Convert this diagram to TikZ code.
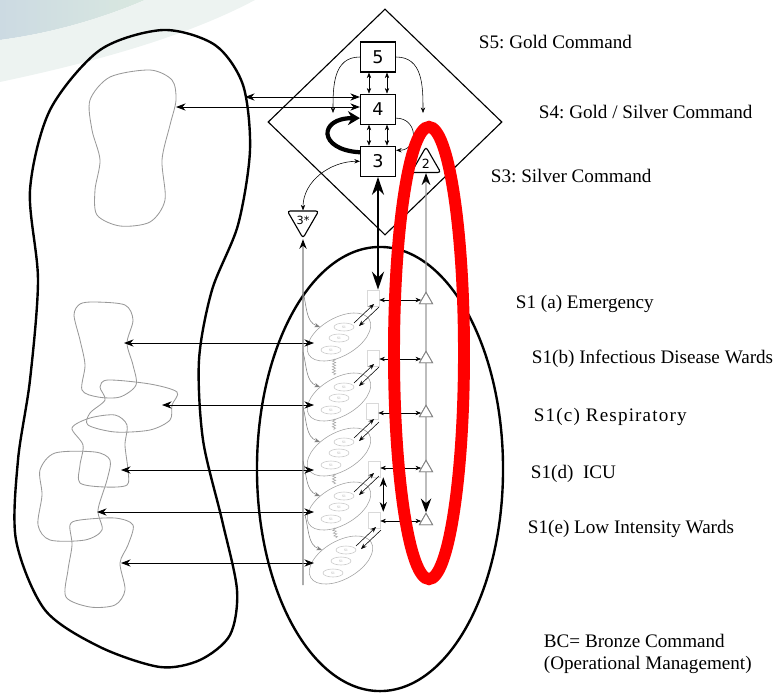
\documentclass[tikz,border=0pt]{standalone}
\usepackage{fontspec}
\setmainfont{Liberation Serif}
\newfontfamily\numfont{DejaVu Sans}
\usetikzlibrary{shapes.geometric, arrows.meta, positioning, calc, decorations.pathmorphing}
\definecolor{slideblue}{HTML}{CCDAE2}
\definecolor{slidegreen}{HTML}{D9E8E0}
\definecolor{slidepale}{HTML}{EDF3F1}
\definecolor{wardgray}{HTML}{A0A0A0}
\definecolor{markred}{HTML}{FF0000}
\frenchspacing

\begin{document}
\begin{tikzpicture}[
    x=0.025cm, y=-0.025cm,
    >={Stealth[length=2.4mm, width=1.8mm]},
    numbox/.style={rectangle, draw, line width=0.8pt, fill=white, minimum width=0.875cm,
                   minimum height=0.75cm, inner sep=0pt, font=\numfont\fontsize{12.5}{14}\selectfont},
    tri/.style={regular polygon, regular polygon sides=3, draw, line width=0.8pt, fill=white,
                rounded corners=2pt, inner sep=0pt, font=\numfont\fontsize{9}{10}\selectfont},
    stub/.style={regular polygon, regular polygon sides=3, draw=gray, line width=0.6pt, fill=white,
                 minimum size=0.38cm, inner sep=0pt},
    ward/.style={ellipse, draw=wardgray, line width=0.4pt, minimum width=1.75cm, minimum height=0.95cm, rotate=30},
    cell/.style={ellipse, draw=gray!45, minimum width=0.5cm, minimum height=0.2cm, inner sep=0pt,
                 text=gray!70, font=\fontsize{2.5}{3}\selectfont},
    gate/.style={rectangle, draw=gray!30, minimum width=0.3cm, minimum height=0.4cm},
    region/.style={draw, line width=1.7pt},
    blob/.style={draw=gray!80, line width=0.6pt},
    cmdtext/.style={anchor=west, font=\fontsize{13.6}{16}\selectfont},
    link/.style={<->, line width=0.6pt},
    minilink/.style={<->, line width=0.4pt, >={Stealth[length=1.4mm, width=1.1mm]}},
    miniarrow/.style={->, line width=0.4pt, >={Stealth[length=1.4mm, width=1.1mm]}},
    heavylink/.style={<->, line width=2pt, >={Stealth[length=4.5mm, width=3mm]}}
]
    \useasboundingbox (0,0) rectangle (782,692);

    % Slide background
    \shade[left color=slideblue, right color=slidegreen] (0,0) -- (0,40) .. controls (60,32) and (110,15) .. (145,0) -- cycle;
    \fill[slidepale] (0,40) .. controls (60,32) and (110,15) .. (145,0) -- (255,0) .. controls (180,40) and (80,65) .. (0,82) -- cycle;

    % Environment (left region and its blobs)
    \draw[region] plot[smooth cycle] coordinates {(163,30) (215,45) (243,85) (250,150) (238,225) (212,290) (199,360)
        (203,440) (222,520) (237,590) (230,635) (200,660) (160,667) (100,647) (45,610) (16,540) (18,460) (30,380)
        (38,280) (30,190) (50,110) (100,50)};
    \draw[blob] plot[smooth cycle] coordinates {(150,70) (172,80) (176,100) (170,125) (162,160) (165,200) (150,222)
        (120,226) (97,215) (95,190) (100,160) (92,130) (90,100) (110,77)};
    \draw[blob] plot[smooth cycle] coordinates {(95,302) (125,305) (133,320) (127,343) (133,365) (136,385) (120,397)
        (98,397) (82,390) (85,365) (80,340) (74,315) (80,304)};
    \draw[blob] plot[smooth cycle] coordinates {(108,380) (150,384) (177,392) (172,405) (170,420) (150,430) (115,432)
        (88,425) (90,413) (105,400) (100,387)};
    \draw[blob] plot[smooth cycle] coordinates {(90,418) (115,415) (127,425) (125,445) (128,470) (127,485) (105,487)
        (80,483) (80,465) (83,445) (72,428)};
    \draw[blob] plot[smooth cycle] coordinates {(55,453) (95,452) (110,460) (107,480) (98,510) (102,530) (85,540)
        (50,540) (38,525) (42,495) (40,470)};
    \draw[blob] plot[smooth cycle] coordinates {(80,520) (115,518) (133,525) (128,545) (120,563) (125,590) (115,605)
        (90,607) (66,597) (68,570) (72,545) (70,525)};
    \coordinate (edgeO) at (245,97);
    \coordinate (tipT) at (176,107);
    \coordinate (tipA) at (124,343);
    \coordinate (tipB) at (162,405);
    \coordinate (tipC) at (121,470);
    \coordinate (tipD) at (97,512);
    \coordinate (tipE) at (121,563);
    \coordinate (wx) at (314,0);

    % Gold / Silver command
    \node[diamond, draw, line width=0.8pt, minimum width=5.85cm, minimum height=5.65cm, inner sep=0pt] (gold) at (385,122) {};
    \node[numbox] (b5) at (378,57) {5};
    \node[numbox, below=0.525cm of b5] (b4) {4};
    \node[numbox, below=0.525cm of b4] (b3) {3};
    \node[tri, minimum size=0.85cm] (t2) at (426,164) {2};
    \node[tri, minimum size=0.8cm, shape border rotate=180, font=\numfont\fontsize{8}{9}\selectfont] (t3s) at (303,220) {3*};

    % Bronze command
    \node[ellipse, region, minimum width=6.15cm, minimum height=11.1cm] (bronze) at (380,469) {};
    \node[ward] (w1) at (339,337) {};
    \node[ward] (w2) at (339,397) {};
    \node[ward] (w3) at (339,452) {};
    \node[ward] (w4) at (339,506) {};
    \node[ward] (w5) at (341,560) {};
    \node[gate] (g1) at (373,298) {};
    \node[gate] (g2) at (373,358) {};
    \node[gate] (g3) at (372,411) {};
    \node[gate] (g4) at (374,469) {};
    \node[gate] (g5) at (374,520) {};
    \foreach \i in {1,...,5} {
        \node[cell] at ($(w\i)+(5,-10)$) {S1};
        \node[cell] at ($(w\i)+(0,1)$) {S1};
        \node[cell] at ($(w\i)+(-8,13)$) {S1};
        \draw[miniarrow] ($(w\i)+(15,-14)$) -- ($(w\i)+(35,-33)$);
        \draw[miniarrow] ($(w\i)+(40,-30)$) -- ($(w\i)+(20,-11)$);
        \draw[miniarrow, gray] ($(w\i)+(-36,-45)$) to[out=-75, in=160] ($(w\i)+(-19,-10)$);
    }
    \foreach \i/\j in {1/2, 2/3, 3/4, 4/5}
        \draw[gray!70, decorate, decoration={zigzag, amplitude=1.2pt, segment length=2pt}]
            ($(w\i)+(-5,22)$) -- ($(w\j)+(-5,-22)$);
    \node[stub] (s1) at (426,300) {};
    \node[stub] (s2) at (426,359) {};
    \node[stub] (s3) at (426,413) {};
    \node[stub] (s4) at (426,468) {};
    \node[stub] (s5) at (426,521) {};

    % Arrows inside the diamond
    \draw[minilink] ($(b5.south)+(-9,0)$) -- ($(b4.north)+(-9,0)$);
    \draw[minilink] ($(b5.south)+(9,0)$) -- ($(b4.north)+(9,0)$);
    \draw[minilink] ($(b4.south)+(-9,0)$) -- ($(b3.north)+(-9,0)$);
    \draw[minilink] ($(b4.south)+(9,0)$) -- ($(b3.north)+(9,0)$);
    \draw[miniarrow] (b5.west) to[out=180, in=90, looseness=1.1] (333,113);
    \draw[miniarrow] (b5.east) to[out=0, in=90, looseness=1.1] (423,113);
    \draw[->, line width=3pt, >={Stealth[length=3mm, width=3.5mm]}]
        ($(b3.west)+(0,-9)$) .. controls (318,150) and (318,118) .. ($(b4.west)+(0,9)$);
    \draw[miniarrow] ($(b4.east)+(0,9)$) to[out=0, in=0, looseness=1.8] ($(b3.east)+(0,-11)$);
    \draw[minilink] (t3s.north) to[out=90, in=180] (b3.west);

    % Links to the environment
    \draw[link] (edgeO) -- (edgeO -| b4.west);
    \draw[link] (tipT) -- (tipT -| b4.west);
    \draw[link] (tipA) -- (tipA -| wx);
    \draw[link] (tipB) -- (tipB -| wx);
    \draw[link] (tipC) -- (tipC -| wx);
    \draw[link] (tipD) -- (tipD -| wx);
    \draw[link] (tipE) -- (tipE -| wx);

    % Command channels
    \coordinate (spine) at (303,585);
    \draw[gray, line width=0.8pt, -{Stealth[length=2.4mm, width=1.8mm, color=black]}] (spine) -- (t3s.south);
    \draw[heavylink] (b3.south) -- (b3.south |- g1.north);
    \draw[gray!80, line width=0.8pt, {Stealth[length=3mm, width=2.2mm, color=black]}-{Stealth[length=3.5mm, width=2.6mm, color=black]}]
        (t2.south) -- (s5.north);
    \node[stub] at (s1) {};
    \node[stub] at (s2) {};
    \node[stub] at (s3) {};
    \node[stub] at (s4) {};
    \node[stub] at (s5) {};
    \draw[minilink] (s1.west) -- (s1.west -| g1.east);
    \draw[minilink] (s2.west) -- (s2.west -| g2.east);
    \draw[minilink] (s3.west) -- (s3.west -| g3.east);
    \draw[minilink] (s4.west) -- (s4.west -| g4.east);
    \draw[minilink] (s5.west) -- (s5.west -| g5.east);
    \draw[link] ($(g4.south east)+(3,0)$) -- ($(g5.north east)+(3,0)$);

    % Labels
    \node[cmdtext] (l5) at (474,42) {S5: Gold Command};
    \node[cmdtext] (l4) at (534,112) {S4: Gold / Silver Command};
    \node[cmdtext] (l3) at (486,176) {S3: Silver Command};
    \node[cmdtext] (la) at (511,304) {S1 (a) Emergency};
    \node[cmdtext] (lb) at (527,359) {S1(b) Infectious Disease Wards};
    \node[cmdtext] (lc) at (529,417) {\addfontfeature{LetterSpace=6}S1(c) Respiratory};
    \node[cmdtext] (ld) at (526,474) {S1(d)~~ICU};
    \node[cmdtext] (le) at (523,529) {S1(e) Low Intensity Wards};
    \node[cmdtext, align=left] (lbc) at (539,654) {BC= Bronze Command\\(Operational Management)};

    % Highlight
    \node[ellipse, draw=markred, line width=8.5pt, minimum width=1.75cm, minimum height=11.3cm] (focus) at (429,353) {};
\end{tikzpicture}
\end{document}
